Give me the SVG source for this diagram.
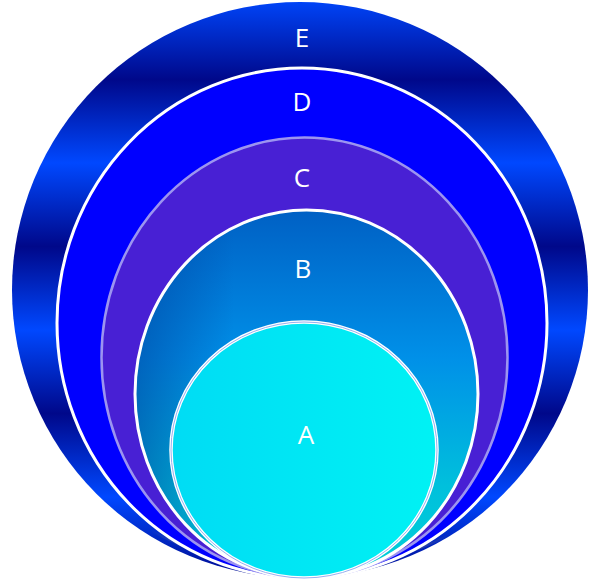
<svg xmlns="http://www.w3.org/2000/svg" width="589" height="585" viewBox="0 0 589 585">
  <defs>
    <linearGradient id="gE" gradientUnits="userSpaceOnUse" x1="0" y1="-4" x2="0" y2="163" spreadMethod="repeat">
      <stop offset="0" stop-color="#0048ff"/>
      <stop offset="0.5" stop-color="#00088a"/>
      <stop offset="1" stop-color="#0048ff"/>
    </linearGradient>
    <linearGradient id="gB" gradientUnits="userSpaceOnUse" x1="0" y1="210" x2="0" y2="578">
      <stop offset="0" stop-color="#0060c4"/>
      <stop offset="0.4" stop-color="#0090e8"/>
      <stop offset="0.75" stop-color="#00c0dc"/>
      <stop offset="1" stop-color="#00d0d8"/>
    </linearGradient>
    <linearGradient id="gBshade" gradientUnits="userSpaceOnUse" x1="135" y1="0" x2="300" y2="0">
      <stop offset="0" stop-color="#003c9a" stop-opacity="0.55"/>
      <stop offset="0.6" stop-color="#003c9a" stop-opacity="0"/>
    </linearGradient>
    <linearGradient id="gA" gradientUnits="userSpaceOnUse" x1="171" y1="0" x2="437" y2="0">
      <stop offset="0" stop-color="#00dcf4"/>
      <stop offset="1" stop-color="#00f2f4"/>
    </linearGradient>
    <linearGradient id="gShadow" gradientUnits="userSpaceOnUse" x1="150" y1="0" x2="450" y2="0">
      <stop offset="0" stop-color="#808080" stop-opacity="0"/>
      <stop offset="0.3" stop-color="#8a8a8a"/>
      <stop offset="0.7" stop-color="#8a8a8a"/>
      <stop offset="1" stop-color="#808080" stop-opacity="0"/>
    </linearGradient>
  </defs>
  <style>
    .lbl { font-family: "Open Sans", "Liberation Sans", sans-serif; font-size: 26px; fill: #ffffff; text-anchor: middle; }
  </style>
  <g id="node-E">
    <circle cx="300" cy="290" r="288" fill="url(#gE)"/>
    <text class="lbl" x="302" y="47">E</text>
  </g>
  <g id="shadow">
    <path d="M150,530 A290,255 0 0 0 455,532" fill="none" stroke="url(#gShadow)" stroke-width="2.5"/>
  </g>
  <g id="node-D">
    <ellipse cx="302" cy="323" rx="245" ry="255" fill="#0000ff" stroke="#ffffff" stroke-width="3"/>
    <text class="lbl" x="302" y="111">D</text>
  </g>
  <g id="node-C">
    <ellipse cx="304.5" cy="357.5" rx="203" ry="220" fill="#4820d4" stroke="#9c94f0" stroke-width="2.5"/>
    <text class="lbl" x="302" y="187">C</text>
  </g>
  <g id="node-B">
    <ellipse cx="306.5" cy="394" rx="171.5" ry="184" fill="url(#gB)"/>
    <ellipse cx="306.5" cy="394" rx="171.5" ry="184" fill="url(#gBshade)" stroke="#ffffff" stroke-width="3"/>
    <text class="lbl" x="303" y="278">B</text>
  </g>
  <g id="node-A">
    <ellipse cx="304" cy="450" rx="133" ry="128" fill="url(#gA)" stroke="#ffffff" stroke-width="3.5"/>
    <ellipse cx="304" cy="450" rx="133" ry="128" fill="none" stroke="#98b0f0" stroke-width="1"/>
    <text class="lbl" x="306" y="444">A</text>
  </g>
  <g id="connectors"></g>
</svg>
